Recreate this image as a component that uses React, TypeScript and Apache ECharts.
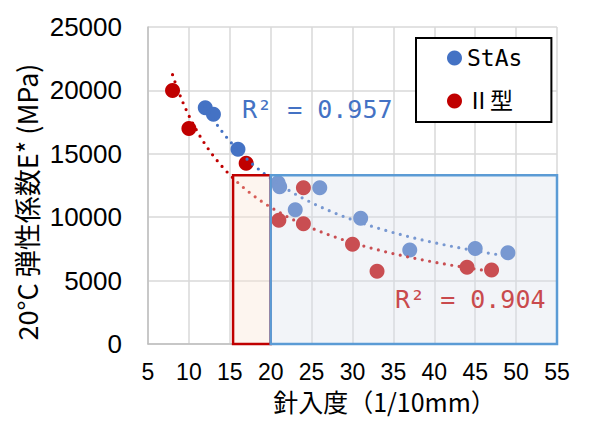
import React, { useEffect, useRef } from "react";
import * as echarts from "echarts";

const FONT = "'Noto Sans CJK JP', 'Noto Sans', sans-serif";
const NUM = "'Liberation Sans', Arial, 'Noto Sans CJK JP', sans-serif";
const MONO = "'DejaVu Sans Mono', 'Liberation Mono', 'Noto Sans CJK JP', monospace";

// 針入度 (1/10mm) and 弾性係数 E* (MPa)
const stasX = [12, 13, 16, 20.9, 21.1, 26, 23, 31, 37, 45, 49];
const stasY = [18640, 18110, 15350, 12720, 12400, 12330, 10590, 9910, 7410, 7540, 7200];
const type2X = [8, 10, 17, 24, 21, 24, 30, 33, 44, 47];
const type2Y = [20000, 17000, 14250, 12330, 9750, 9490, 7860, 5730, 6050, 5840];

const seriesNames = ["StAs", "Ⅱ型"];
const r2Labels = ["R² = 0.957", "R² = 0.904"];
const xTitle = "針入度（1/10mm）";
const yTitle = "20°C 弾性係数E* (MPa)";
const xTicks = { min: 5, max: 55, interval: 5 };
const yTicks = { min: 0, max: 25000, interval: 5000 };

// highlighted penetration ranges [x0, x1, yTop]
const redRange = [15.4, 20, 13300];
const blueRange = [20, 55, 13300];

function powerFit(xs: number[], ys: number[]) {
  const n = xs.length;
  const lx = xs.map(Math.log);
  const ly = ys.map(Math.log);
  const mx = lx.reduce((s, v) => s + v, 0) / n;
  const my = ly.reduce((s, v) => s + v, 0) / n;
  let sxy = 0;
  let sxx = 0;
  for (let i = 0; i < n; i++) {
    sxy += (lx[i] - mx) * (ly[i] - my);
    sxx += (lx[i] - mx) * (lx[i] - mx);
  }
  const b = sxy / sxx;
  const a = Math.exp(my - b * mx);
  const x0 = Math.min(...xs);
  const x1 = Math.max(...xs);
  const pts: number[][] = [];
  const steps = 120;
  for (let i = 0; i <= steps; i++) {
    const x = x0 + ((x1 - x0) * i) / steps;
    pts.push([x, a * Math.pow(x, b)]);
  }
  return pts;
}

export default function App() {
  const ref = useRef<HTMLDivElement>(null);
  useEffect(() => {
    if (!ref.current) return;
    const chart = echarts.init(ref.current, undefined, { renderer: "svg" });
    const blue = "#4472c4";
    const red = "#c00000";
    chart.setOption({
      animation: false,
      grid: { left: 148, right: 33, top: 27, bottom: 77, outerBoundsMode: "none", containLabel: false },
      xAxis: {
        type: "value",
        min: xTicks.min,
        max: xTicks.max,
        interval: xTicks.interval,
        name: xTitle,
        nameLocation: "middle",
        nameGap: 40,
        nameTextStyle: { fontFamily: FONT, fontSize: 25, color: "#000", padding: [0, 0, 0, 64] },
        axisLine: { show: true, lineStyle: { color: "#bfbfbf", width: 1.5 } },
        axisTick: { show: false },
        axisLabel: { fontFamily: NUM, fontSize: 23, lineHeight: 24, color: "#000", margin: 16 },
        splitLine: { show: true, lineStyle: { color: "#d9d9d9", width: 1.5 } },
      },
      yAxis: {
        type: "value",
        min: yTicks.min,
        max: yTicks.max,
        interval: yTicks.interval,
        axisLine: { show: true, lineStyle: { color: "#bfbfbf", width: 1.5 } },
        axisTick: { show: false },
        axisLabel: {
          fontFamily: NUM,
          fontSize: 26,
          color: "#000",
          margin: 26,
          formatter: (v: number) => String(v),
        },
        splitLine: { show: true, lineStyle: { color: "#d9d9d9", width: 1.5 } },
      },
      legend: {
        data: seriesNames,
        orient: "vertical",
        left: 416,
        top: 38,
        padding: [7, 29, 8, 31],
        itemGap: 17,
        icon: "circle",
        itemWidth: 15,
        itemHeight: 15,
        textStyle: { fontFamily: MONO, fontSize: 23, lineHeight: 26, color: "#000" },
        borderColor: "#000",
        borderWidth: 2,
        backgroundColor: "#fff",
        z: 10,
      },
      series: [
        {
          name: seriesNames[0],
          type: "scatter",
          z: 2,
          symbolSize: 15,
          itemStyle: { color: blue, opacity: 1 },
          data: stasX.map((x, i) => [x, stasY[i]]),
        },
        {
          name: seriesNames[1],
          type: "scatter",
          z: 2,
          symbolSize: 15,
          itemStyle: { color: red, opacity: 1 },
          data: type2X.map((x, i) => [x, type2Y[i]]),
        },
        {
          name: "StAs trend",
          type: "line",
          z: 3,
          showSymbol: false,
          symbol: "none",
          lineStyle: { color: blue, width: 3.2, type: [0, 7.5], cap: "round" },
          data: powerFit(stasX, stasY),
        },
        {
          name: "Ⅱ型 trend",
          type: "line",
          z: 3,
          showSymbol: false,
          symbol: "none",
          lineStyle: { color: red, width: 3.2, type: [0, 7.5], cap: "round" },
          data: powerFit(type2X, type2Y),
        },
        {
          name: "ranges",
          type: "scatter",
          z: 4,
          data: [],
          markArea: {
            silent: true,
            z: 8,
            data: [
              [
                {
                  xAxis: redRange[0],
                  yAxis: 0,
                  itemStyle: { color: "rgba(251,229,214,0.4)", borderColor: red, borderWidth: 2.5, opacity: 1 },
                },
                { xAxis: redRange[1], yAxis: redRange[2] },
              ],
              [
                {
                  xAxis: blueRange[0],
                  yAxis: 0,
                  itemStyle: { color: "rgba(218,224,234,0.35)", borderColor: "#5b9bd5", borderWidth: 2.5, opacity: 1 },
                },
                { xAxis: blueRange[1], yAxis: blueRange[2] },
              ],
            ],
          },
        },
      ],
      graphic: [
        {
          type: "text",
          x: 26,
          y: 202,
          rotation: Math.PI / 2,
          z: 20,
          style: {
            text: yTitle,
            fill: "#000",
            fontFamily: FONT,
            fontSize: 27,
            align: "center",
            verticalAlign: "middle",
          },
        },
        {
          type: "text",
          x: 242,
          y: 109,
          z: 20,
          style: { text: r2Labels[0], fill: blue, fontFamily: MONO, fontSize: 25, verticalAlign: "middle" },
        },
        {
          type: "text",
          x: 395,
          y: 299,
          z: 20,
          style: { text: r2Labels[1], fill: "#c94a4d", fontFamily: MONO, fontSize: 25, verticalAlign: "middle" },
        },
      ],
    });
    return () => chart.dispose();
  }, []);
  return <div ref={ref} style={{ width: 590, height: 421, position: "absolute", left: 0, top: 0 }} />;
}
